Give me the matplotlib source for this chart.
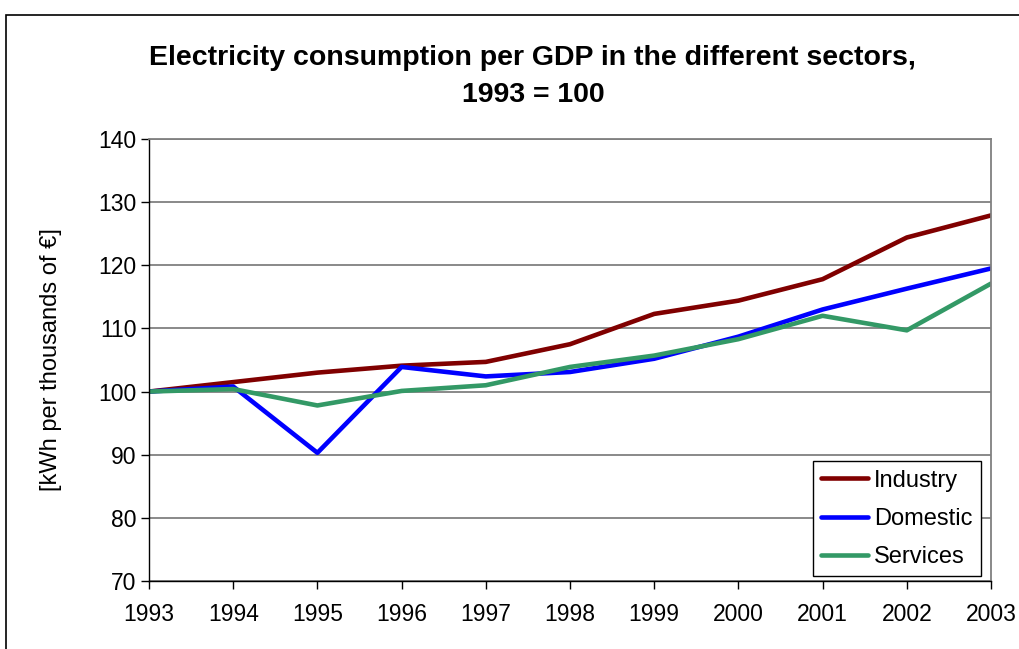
import matplotlib
matplotlib.use("Agg")
import matplotlib.pyplot as plt
from matplotlib.patches import Rectangle

plt.rcParams['font.family'] = ['Liberation Sans', 'DejaVu Sans']

years = ["1993", "1994", "1995", "1996", "1997", "1998", "1999", "2000", "2001", "2002", "2003"]
industry = [100, 101.5, 103.0, 104.1, 104.7, 107.5, 112.3, 114.4, 117.8, 124.4, 127.9]
domestic = [100, 100.8, 90.3, 103.9, 102.4, 103.1, 105.2, 108.7, 113.0, 116.3, 119.5]
services = [100, 100.4, 97.8, 100.1, 101.0, 103.9, 105.7, 108.3, 112.0, 109.7, 117.1]
yticks = [70, 80, 90, 100, 110, 120, 130, 140]

W, H = 1019, 649
fig = plt.figure(figsize=(W / 100, H / 100), dpi=100)
fig.patches.append(Rectangle((6 / W, -0.1), 1.2, 1 - 15 / H + 0.1, transform=fig.transFigure,
                             fill=False, edgecolor='black', linewidth=1.2))

ax = fig.add_axes([149 / W, 1 - 581 / H, (991 - 149) / W, (581 - 139) / H])
x = list(range(len(years)))
ax.plot(x, industry, color='#800000', lw=3.3, label='Industry', solid_capstyle='round')
ax.plot(x, domestic, color='#0000FF', lw=3.3, label='Domestic', solid_capstyle='round')
ax.plot(x, services, color='#339966', lw=3.3, label='Services', solid_capstyle='round')

ax.set_xlim(0, len(years) - 1)
ax.set_ylim(70, 140)
ax.set_yticks(yticks)
ax.set_xticks(x)
ax.set_xticklabels(years)
ax.yaxis.grid(True, color='#808080', lw=1.3)
ax.set_axisbelow(True)
for s in ['top', 'right']:
    ax.spines[s].set_color('#808080')
    ax.spines[s].set_linewidth(1.3)
for s in ['left', 'bottom']:
    ax.spines[s].set_color('black')
    ax.spines[s].set_linewidth(1.0)
ax.tick_params(axis='both', direction='out', length=6, width=1, labelsize=16.5, color='black')
ax.tick_params(axis='x', pad=10)
ax.tick_params(axis='y', pad=3)
ax.set_ylabel('[kWh per thousands of €]', fontsize=17, labelpad=26)

fig.text(0.523, 1 - 58 / H, 'Electricity consumption per GDP in the different sectors,',
         ha='center', va='center', fontsize=20.5, fontweight='bold')
fig.text(0.523, 1 - 95 / H, '1993 = 100', ha='center', va='center', fontsize=20.5, fontweight='bold')

leg = ax.legend(loc='lower right', bbox_to_anchor=(0.988, 0.011), fontsize=17, frameon=True,
                fancybox=False, edgecolor='black', framealpha=1, handlelength=2.0,
                handletextpad=0.25, labelspacing=0.68, borderpad=0.35, borderaxespad=0)
leg.get_frame().set_linewidth(1.0)

fig.savefig('out.png', dpi=100)
